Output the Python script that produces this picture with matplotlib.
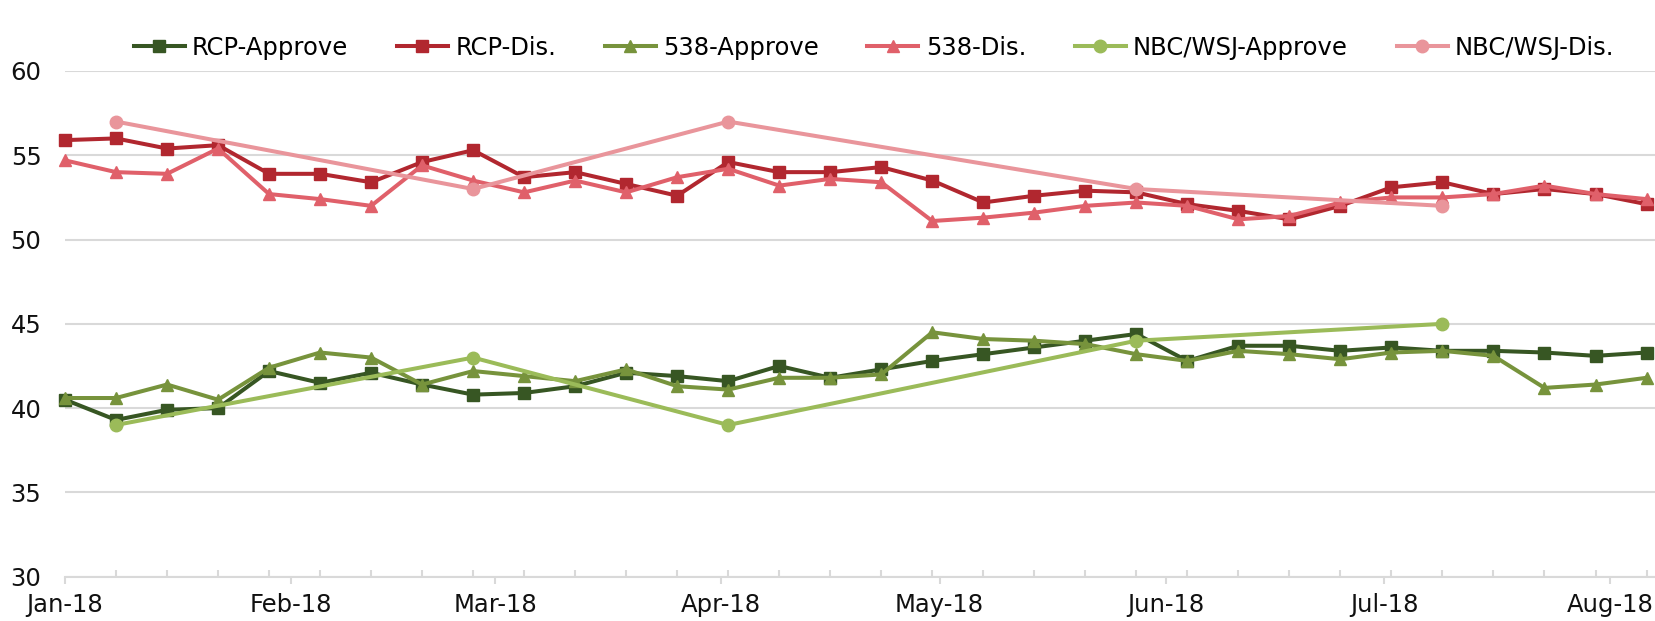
import numpy as np
import pandas as pd
import matplotlib
matplotlib.use("Agg")
import matplotlib.pyplot as plt
import matplotlib.dates as mdates

# weekly poll dates (Mondays)
weeks = pd.date_range("2018-01-01", periods=32, freq="7D")

rcp_approve = [40.5, 39.3, 39.9, 40.0, 42.2, 41.5, 42.1, 41.4, 40.8, 40.9,
               41.3, 42.1, 41.9, 41.6, 42.5, 41.8, 42.3, 42.8, 43.2, 43.6,
               44.0, 44.4, 42.8, 43.7, 43.7, 43.4, 43.6, 43.4, 43.4, 43.3,
               43.1, 43.3]
rcp_dis = [55.9, 56.0, 55.4, 55.6, 53.9, 53.9, 53.4, 54.6, 55.3, 53.7,
           54.0, 53.3, 52.6, 54.6, 54.0, 54.0, 54.3, 53.5, 52.2, 52.6,
           52.9, 52.8, 52.1, 51.7, 51.2, 52.0, 53.1, 53.4, 52.7, 53.0,
           52.7, 52.1]
f38_approve = [40.6, 40.6, 41.4, 40.5, 42.4, 43.3, 43.0, 41.4, 42.2, 41.9,
               41.6, 42.3, 41.3, 41.1, 41.8, 41.8, 42.0, 44.5, 44.1, 44.0,
               43.8, 43.2, 42.8, 43.4, 43.2, 42.9, 43.3, 43.4, 43.1, 41.2,
               41.4, 41.8]
f38_dis = [54.7, 54.0, 53.9, 55.4, 52.7, 52.4, 52.0, 54.4, 53.5, 52.8,
           53.5, 52.8, 53.7, 54.2, 53.2, 53.6, 53.4, 51.1, 51.3, 51.6,
           52.0, 52.2, 52.0, 51.2, 51.4, 52.2, 52.5, 52.5, 52.7, 53.2,
           52.7, 52.4]

nbc_dates = pd.to_datetime(["2018-01-08", "2018-02-26", "2018-04-02",
                            "2018-05-28", "2018-07-09"])
nbc_approve = [39, 43, 39, 44, 45]
nbc_dis = [57, 53, 57, 53, 52]

W, H = 1656, 621
fig = plt.figure(figsize=(W / 100, H / 100), dpi=100)
ax = fig.add_axes([65 / W, 1 - 576.7 / H, 1 - 65 / W, (576.7 - 71) / H])

grid_c = "#d9d9d9"
txt_c = "#111111"
fs = 17.5
lw = 2.9
ax.plot(weeks, rcp_approve, color="#375623", lw=lw, marker="s", ms=8,
        label="RCP-Approve", clip_on=False)
ax.plot(weeks, rcp_dis, color="#b1272f", lw=lw, marker="s", ms=8,
        label="RCP-Dis.", clip_on=False)
ax.plot(weeks, f38_approve, color="#77933c", lw=lw, marker="^", ms=9,
        label="538-Approve", clip_on=False)
ax.plot(weeks, f38_dis, color="#e0606a", lw=lw, marker="^", ms=9,
        label="538-Dis.", clip_on=False)
ax.plot(nbc_dates, nbc_approve, color="#9bbb59", lw=lw, marker="o", ms=9,
        label="NBC/WSJ-Approve", clip_on=False)
ax.plot(nbc_dates, nbc_dis, color="#e9959b", lw=lw, marker="o", ms=9,
        label="NBC/WSJ-Dis.", clip_on=False)

start = pd.Timestamp("2018-01-01")
ax.set_xlim(start, start + pd.Timedelta(days=218.3))
ax.set_ylim(30, 60)
ax.set_yticks([30, 35, 40, 45, 50, 55, 60])

ax.xaxis.set_major_locator(mdates.MonthLocator())
ax.xaxis.set_major_formatter(mdates.DateFormatter("%b-%y"))
ax.set_xticks(weeks, minor=True)

for s in ["left", "right", "top"]:
    ax.spines[s].set_visible(False)
ax.spines["bottom"].set_color(grid_c)
ax.spines["bottom"].set_linewidth(1.5)
ax.grid(axis="y", color=grid_c, lw=1.5)
ax.set_axisbelow(True)

ax.tick_params(axis="y", length=0, pad=17, labelsize=fs, labelcolor=txt_c)
ax.tick_params(axis="x", which="major", direction="out", length=5,
               color=grid_c, width=1.5, labelsize=fs, pad=7,
               labelcolor=txt_c)
ax.tick_params(axis="x", which="minor", direction="in", length=5,
               color=grid_c, width=1.5)

fig.legend(loc="center", bbox_to_anchor=(874 / W, 1 - 48 / H), ncol=6,
           frameon=False, fontsize=fs, handlelength=2.1, handletextpad=0.3,
           columnspacing=2.0, numpoints=1)

fig.savefig("out.png", dpi=100)
